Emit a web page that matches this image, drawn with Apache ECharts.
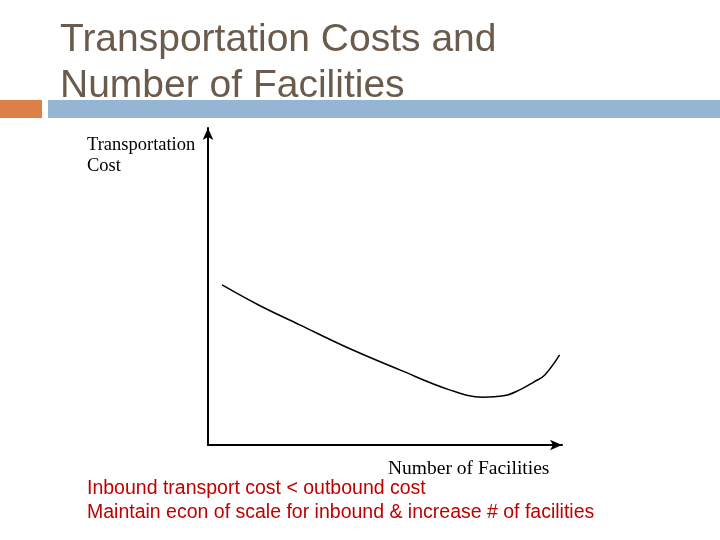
<!DOCTYPE html>
<html>
<head>
<meta charset="utf-8">
<script src="https://cdn.jsdelivr.net/npm/echarts@6/dist/echarts.min.js"></script>
<style>body{margin:0;background:#fff}#main{width:720px;height:540px}</style>
</head>
<body>
<div id="main"></div>
<script>
// curve (arbitrary units)
var facilities = [0.41, 1.5, 2.67, 4.0, 5.58, 7.03, 7.99, 8.6, 9.07, 9.5, 9.8, 10.23];
var costs = [5.05, 4.4, 3.79, 3.1, 2.37, 1.74, 1.51, 1.55, 1.74, 2.0, 2.21, 2.84];
var notes = ['Inbound transport cost < outbound cost', 'Maintain econ of scale for inbound & increase # of facilities'];

var myChart = echarts.init(document.getElementById('main'));
myChart.setOption({
	animation : false,
	title : {
		text : 'Transportation Costs and\nNumber of Facilities',
		left : 55,
		top : 12,
		textStyle : {
			fontFamily : 'Liberation Sans',
			fontWeight : 'normal',
			fontSize : 39,
			color : '#6b5b4c',
			lineHeight : 46
		}
	},
	graphic : [ {
		type : 'rect',
		shape : { x : 0, y : 100, width : 42, height : 18 },
		style : { fill : '#dd8047' }
	}, {
		type : 'rect',
		shape : { x : 48, y : 100, width : 672, height : 18 },
		style : { fill : '#94b6d2' }
	}, {
		type : 'text',
		left : 87,
		top : 477,
		style : {
			text : notes.join('\n'),
			font : '19.5px "Liberation Sans"',
			lineHeight : 24,
			fill : '#c00000'
		}
	}, {
		type : 'text',
		left : 87,
		top : 135,
		style : {
			text : 'Transportation\nCost',
			font : '18.5px "Liberation Serif"',
			lineHeight : 21,
			fill : '#000'
		}
	}, {
		type : 'text',
		left : 388,
		top : 459,
		style : {
			text : 'Number of Facilities',
			font : '19.5px "Liberation Serif"',
			fill : '#000'
		}
	} ],
	grid : {
		left : 208,
		right : 158,
		top : 128,
		bottom : 95
	},
	xAxis : {
		type : 'value',
		min : 0,
		max : 10.3,
		axisLine : {
			lineStyle : { color : '#000', width : 2 },
			symbol : [ 'none', 'arrow' ],
			symbolSize : [ 8, 12 ]
		},
		axisTick : { show : false },
		axisLabel : { show : false },
		splitLine : { show : false }
	},
	yAxis : {
		type : 'value',
		min : 0,
		max : 10,
		axisLine : {
			show : true,
			lineStyle : { color : '#000', width : 2 },
			symbol : [ 'none', 'arrow' ],
			symbolSize : [ 8, 12 ]
		},
		axisTick : { show : false },
		axisLabel : { show : false },
		splitLine : { show : false }
	},
	series : [ {
		type : 'line',
		smooth : 0.4,
		clip : false,
		showSymbol : false,
		lineStyle : { color : '#000', width : 1.5 },
		data : facilities.map(function (x, i) { return [x, costs[i]]; })
	} ]
});
</script>
</body>
</html>
